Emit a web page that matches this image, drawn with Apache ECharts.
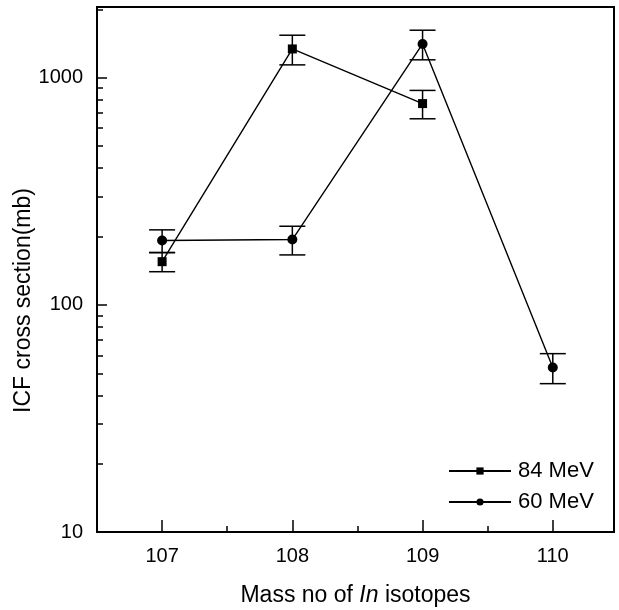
<!DOCTYPE html>
<html>
<head>
<meta charset="utf-8">
<script src="https://cdn.jsdelivr.net/npm/echarts@6/dist/echarts.min.js"></script>
<style>
  html, body { margin: 0; padding: 0; background: #fff; }
  #chart { width: 619px; height: 610px; }
</style>
</head>
<body>
<div id="chart"></div>
<script>
// Data
var isotopes = [107, 108, 109, 110];
var mev84 = [155, 1340, 770, null];
var mev84Err = [15, 200, 110, null];
var mev60 = [192, 194, 1410, 53];
var mev60Err = [22, 28, 210, 8];
var xMajorTicks = [107, 108, 109, 110];
var xMinorTicks = [107.5, 108.5, 109.5];
var yMajorTicks = [10, 100, 1000];
var yMinorTicks = [20, 30, 40, 50, 60, 70, 80, 90, 200, 300, 400, 500, 600, 700, 800, 900, 2000];

var chart = echarts.init(document.getElementById('chart'));

var pairs = function (vals) {
    return isotopes.map(function (x, i) { return vals[i] == null ? null : [x, vals[i]]; })
        .filter(function (d) { return d; });
};
var errs = function (vals, e) {
    return isotopes.map(function (x, i) { return vals[i] == null ? null : [x, vals[i] - e[i], vals[i] + e[i]]; })
        .filter(function (d) { return d; });
};

// Error bars with caps
var errorBar = function (params, api) {
    var x = api.value(0);
    var lo = api.coord([x, api.value(1)]);
    var hi = api.coord([x, api.value(2)]);
    var half = 13;
    var st = { stroke: '#000', lineWidth: 1.5 };
    return {
        type: 'group',
        children: [
            { type: 'line', shape: { x1: lo[0], y1: lo[1], x2: hi[0], y2: hi[1] }, style: st },
            { type: 'line', shape: { x1: lo[0] - half, y1: lo[1], x2: lo[0] + half, y2: lo[1] }, style: st },
            { type: 'line', shape: { x1: hi[0] - half, y1: hi[1], x2: hi[0] + half, y2: hi[1] }, style: st }
        ]
    };
};

var font = 'Liberation Sans, Arial, sans-serif';
var xRange = { min: 106.5, max: 110.47 };
var yRange = { min: 10, max: 2050 };

chart.setOption({
    animation: false,
    textStyle: { fontFamily: font, color: '#000' },
    grid: {
        left: 97, right: 5, top: 7, bottom: 78,
        outerBoundsMode: 'none',
        show: true, borderColor: '#000', borderWidth: 2
    },
    legend: {
        orient: 'vertical',
        left: 448,
        top: 460,
        padding: 0,
        itemWidth: 62,
        itemHeight: 9,
        itemGap: 9,
        textStyle: { fontSize: 22, fontFamily: font, color: '#000', padding: [0, 0, 0, 2] },
        data: ['84 MeV', '60 MeV']
    },
    xAxis: [{
        type: 'value',
        min: xRange.min,
        max: xRange.max,
        name: '{n|Mass no of }{i|In}{n| isotopes}',
        nameLocation: 'middle',
        nameGap: 52,
        nameMoveOverlap: false,
        nameTextStyle: {
            rich: {
                n: { fontSize: 23, fontFamily: font, color: '#000' },
                i: { fontSize: 23, fontFamily: font, color: '#000', fontStyle: 'italic' }
            }
        },
        axisLine: { lineStyle: { color: '#000', width: 2 } },
        axisTick: { inside: true, length: 12, lineStyle: { color: '#000', width: 1.5 }, customValues: xMajorTicks },
        axisLabel: { fontSize: 20, margin: 14, color: '#000', customValues: xMajorTicks },
        splitLine: { show: false }
    }, {
        type: 'value',
        position: 'bottom',
        min: xRange.min,
        max: xRange.max,
        axisLine: { show: false },
        axisTick: { inside: true, length: 6, lineStyle: { color: '#000', width: 1.5 }, customValues: xMinorTicks },
        axisLabel: { show: false },
        splitLine: { show: false }
    }],
    yAxis: [{
        type: 'log',
        logBase: 10,
        min: yRange.min,
        max: yRange.max,
        name: 'ICF cross section(mb)',
        nameLocation: 'middle',
        nameGap: 62,
        nameMoveOverlap: false,
        nameTextStyle: { fontSize: 23, fontFamily: font, color: '#000', padding: [0, 62, 0, 0] },
        axisLine: { lineStyle: { color: '#000', width: 2 } },
        axisTick: { inside: true, length: 10, lineStyle: { color: '#000', width: 1.5 }, customValues: yMajorTicks },
        axisLabel: {
            fontSize: 20, margin: 14, color: '#000', customValues: yMajorTicks,
            formatter: function (v) { return String(Math.round(v)); }
        },
        splitLine: { show: false }
    }, {
        type: 'log',
        logBase: 10,
        position: 'left',
        min: yRange.min,
        max: yRange.max,
        axisLine: { show: false },
        axisTick: { inside: true, length: 6, lineStyle: { color: '#000', width: 1.5 }, customValues: yMinorTicks },
        axisLabel: { show: false },
        splitLine: { show: false }
    }],
    series: [
        {
            type: 'custom',
            renderItem: errorBar,
            data: errs(mev84, mev84Err),
            encode: { x: 0, y: [1, 2] },
            z: 1
        },
        {
            type: 'custom',
            renderItem: errorBar,
            data: errs(mev60, mev60Err),
            encode: { x: 0, y: [1, 2] },
            z: 1
        },
        {
            name: '84 MeV',
            type: 'line',
            data: pairs(mev84),
            symbol: 'rect',
            symbolSize: 9,
            itemStyle: { color: '#000' },
            lineStyle: { color: '#000', width: 1.4 },
            z: 3
        },
        {
            name: '60 MeV',
            type: 'line',
            data: pairs(mev60),
            symbol: 'circle',
            symbolSize: 10,
            itemStyle: { color: '#000' },
            lineStyle: { color: '#000', width: 1.4 },
            z: 3
        }
    ]
});
</script>
</body>
</html>
